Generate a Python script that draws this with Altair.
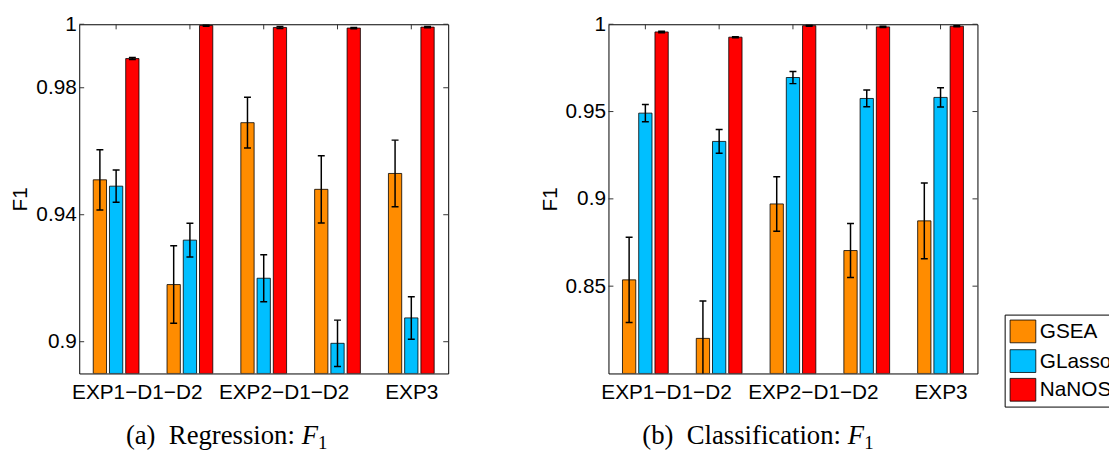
import altair as alt
import pandas as pd

# ---------------- data ----------------
groups = [1, 2, 3, 4, 5]
methods = ["GSEA", "GLasso", "NaNOSE"]
colors = ["#FF8C00", "#00BFFF", "#FF0000"]

x_labels = ["EXP1−D1−D2", "EXP2−D1−D2", "EXP3"]
x_label_pos = [1.28, 3.27, 5.0]

# Regression F1
reg_gsea = [0.951, 0.918, 0.969, 0.948, 0.953]
reg_gsea_err = [0.0095, 0.0122, 0.0080, 0.0106, 0.0105]
reg_glasso = [0.949, 0.932, 0.920, 0.8995, 0.9075]
reg_glasso_err = [0.0051, 0.0053, 0.0074, 0.0073, 0.0067]
reg_nanose = [0.9892, 0.9996, 0.9990, 0.9988, 0.9991]
reg_nanose_err = [0.0003, 0.0002, 0.0003, 0.0002, 0.0002]
reg_yticks = [0.9, 0.94, 0.98, 1.0]
reg_ymin = 0.89

# Classification F1
cls_gsea = [0.8536, 0.8201, 0.8971, 0.8704, 0.8874]
cls_gsea_err = [0.0244, 0.0214, 0.0156, 0.0155, 0.0217]
cls_glasso = [0.9491, 0.9329, 0.9695, 0.9575, 0.9581]
cls_glasso_err = [0.0050, 0.0068, 0.0035, 0.0048, 0.0055]
cls_nanose = [0.9956, 0.9926, 0.9992, 0.9985, 0.9989]
cls_nanose_err = [0.0004, 0.0003, 0.0003, 0.0003, 0.0003]
cls_yticks = [0.85, 0.9, 0.95, 1.0]
cls_ymin = 0.80

offsets = [-0.22, 0.0, 0.22]
BAR_HALF = 0.09
CAP_HALF = 0.047

PW, PH = 373, 353
SANS = "Liberation Sans"
SERIF = "Liberation Serif"
CAP_FS = 27

label_expr = (f"datum.value < 2 ? '{x_labels[0]}' : "
              f"datum.value < 4 ? '{x_labels[1]}' : '{x_labels[2]}'")


def panel(vals, errs, ymin, yticks, ytick_len, cap_text, cap_x, cap_y):
    rows = []
    for mi, m in enumerate(methods):
        for gi, g in enumerate(groups):
            v = vals[mi][gi]
            e = errs[mi][gi]
            p = g + offsets[mi]
            rows.append(dict(method=m, pos=p, value=v, lo=v - e, hi=v + e,
                             base=ymin, b1=p - BAR_HALF, b2=p + BAR_HALF,
                             c1=p - CAP_HALF, c2=p + CAP_HALF))
    df = pd.DataFrame(rows)

    xs = alt.Scale(domain=[0.5, 5.5], nice=False, zero=False)
    ys = alt.Scale(domain=[ymin, 1.0], nice=False, zero=False)
    xax = alt.Axis(values=x_label_pos, labelExpr=label_expr, ticks=False,
                   domain=False, grid=False, labelFont=SANS, labelFontSize=21,
                   labelColor="black", labelPadding=8, labelOverlap=False,
                   labelFlush=False, title=None)
    yax = alt.Axis(values=yticks, format="~g", ticks=False, domain=False,
                   grid=False, labelFont=SANS, labelFontSize=21,
                   labelColor="black", labelPadding=3, title="F1",
                   titleFont=SANS, titleFontSize=21, titleFontWeight="normal",
                   titleColor="black", titlePadding=5)

    base = alt.Chart(df)
    bars = base.mark_bar(stroke="black", strokeWidth=0.8, clip=True).encode(
        x=alt.X("b1:Q", scale=xs, axis=xax),
        x2="b2:Q",
        y=alt.Y("value:Q", scale=ys, axis=yax),
        y2="base:Q",
        color=alt.Color("method:N", scale=alt.Scale(domain=methods, range=colors),
                        legend=None),
    )
    err = base.mark_rule(color="black", strokeWidth=1.5, clip=True).encode(
        x=alt.X("pos:Q", scale=xs, axis=xax),
        y=alt.Y("lo:Q", scale=ys, axis=yax),
        y2="hi:Q",
    )
    cap_hi = base.mark_rule(color="black", strokeWidth=1.5, clip=True).encode(
        x=alt.X("c1:Q", scale=xs, axis=xax), x2="c2:Q",
        y=alt.Y("hi:Q", scale=ys, axis=yax),
    )
    cap_lo = base.mark_rule(color="black", strokeWidth=1.5, clip=True).encode(
        x=alt.X("c1:Q", scale=xs, axis=xax), x2="c2:Q",
        y=alt.Y("lo:Q", scale=ys, axis=yax),
    )

    # inward ticks (MATLAB style)
    tl = 0.067
    yt = pd.DataFrame({"t": yticks * 2,
                       "a": [0.5] * len(yticks) + [5.5 - tl] * len(yticks),
                       "b": [0.5 + tl] * len(yticks) + [5.5] * len(yticks)})
    ytick_rules = alt.Chart(yt).mark_rule(color="#333333", strokeWidth=1).encode(
        x=alt.X("a:Q", scale=xs, axis=xax), x2="b:Q",
        y=alt.Y("t:Q", scale=ys, axis=yax),
    )
    xt = pd.DataFrame({"g": groups, "top": [1.0] * 5,
                       "bot": [1.0 - ytick_len] * 5})
    xtick_rules = alt.Chart(xt).mark_rule(color="#333333", strokeWidth=1).encode(
        x=alt.X("g:Q", scale=xs, axis=xax),
        y=alt.Y("top:Q", scale=ys, axis=yax), y2="bot:Q",
    )

    main_txt, f_txt, sub_txt = cap_text
    cap1 = alt.Chart(pd.DataFrame({"t": [main_txt]})).mark_text(
        font=SERIF, fontSize=CAP_FS, align="right", baseline="alphabetic",
        color="black").encode(text="t:N", x=alt.value(cap_x), y=alt.value(cap_y))
    cap2 = alt.Chart(pd.DataFrame({"t": [f_txt]})).mark_text(
        font=SERIF, fontSize=CAP_FS, fontStyle="italic", align="left",
        baseline="alphabetic", color="black").encode(
        text="t:N", x=alt.value(cap_x + 7), y=alt.value(cap_y))
    cap3 = alt.Chart(pd.DataFrame({"t": [sub_txt]})).mark_text(
        font=SERIF, fontSize=19, align="left", baseline="alphabetic",
        color="black").encode(
        text="t:N", x=alt.value(cap_x + 23.5), y=alt.value(cap_y + 5))

    return alt.layer(bars, err, cap_hi, cap_lo, ytick_rules, xtick_rules,
                     cap1, cap2, cap3).properties(width=PW, height=PH)


left = panel([reg_gsea, reg_glasso, reg_nanose],
             [reg_gsea_err, reg_glasso_err, reg_nanose_err],
             reg_ymin, reg_yticks, 0.0016,
             ("(a)\u00a0\u00a0Regression:", "F", "1"), 218, 424)
right = panel([cls_gsea, cls_glasso, cls_nanose],
              [cls_gsea_err, cls_glasso_err, cls_nanose_err],
              cls_ymin, cls_yticks, 0.0029,
              ("(b)\u00a0\u00a0Classification:", "F", "1"), 235, 424)

# ---------------- legend panel (clipped at the page edge) ----------------
LW, LH = 117, 420
T = 18   # page y of legend panel top
LX0 = 999  # page x of legend panel left
leg_rows = pd.DataFrame({
    "method": methods,
    "sx1": [1016 - LX0] * 3, "sx2": [1042 - LX0] * 3,
    "sy1": [317 - T, 347 - T, 376 - T], "sy2": [340 - T, 370 - T, 399 - T],
    "tx": [1046 - LX0] * 3,
    "ty": [329 - T, 359 - T, 388 - T],
})
lxs = alt.Scale(domain=[0, LW], range=[0, LW], nice=False, zero=False)
lys = alt.Scale(domain=[0, LH], range=[0, LH], nice=False, zero=False)
box = alt.Chart(pd.DataFrame({"x1": [1011 - LX0], "x2": [LW + 20],
                              "y1": [312 - T], "y2": [405 - T]})).mark_rect(
    fill="white", stroke="black", strokeWidth=1, clip=True).encode(
    x=alt.X("x1:Q", scale=lxs, axis=None), x2="x2:Q",
    y=alt.Y("y1:Q", scale=lys, axis=None), y2="y2:Q")
sw = alt.Chart(leg_rows).mark_rect(stroke="black", strokeWidth=0.8, clip=True).encode(
    x=alt.X("sx1:Q", scale=lxs, axis=None), x2="sx2:Q",
    y=alt.Y("sy1:Q", scale=lys, axis=None), y2="sy2:Q",
    color=alt.Color("method:N", scale=alt.Scale(domain=methods, range=colors),
                    legend=None))
lt = alt.Chart(leg_rows).mark_text(font=SANS, fontSize=21, align="left",
                                   baseline="middle", color="black",
                                   clip=True).encode(
    x=alt.X("tx:Q", scale=lxs, axis=None),
    y=alt.Y("ty:Q", scale=lys, axis=None),
    text="method:N")
legend_panel = alt.layer(box, sw, lt).properties(
    width=LW, height=LH, view=alt.ViewConfig(stroke="transparent"))

chart = alt.hconcat(
    alt.hconcat(left, right, spacing=90),
    legend_panel, spacing=14,
).properties(
    padding={"left": 1, "top": 2, "right": 0, "bottom": 0},
    background="white",
).configure_view(stroke="black", strokeWidth=1)

chart.save("out.html", embed_options={"renderer": "svg", "actions": False})
